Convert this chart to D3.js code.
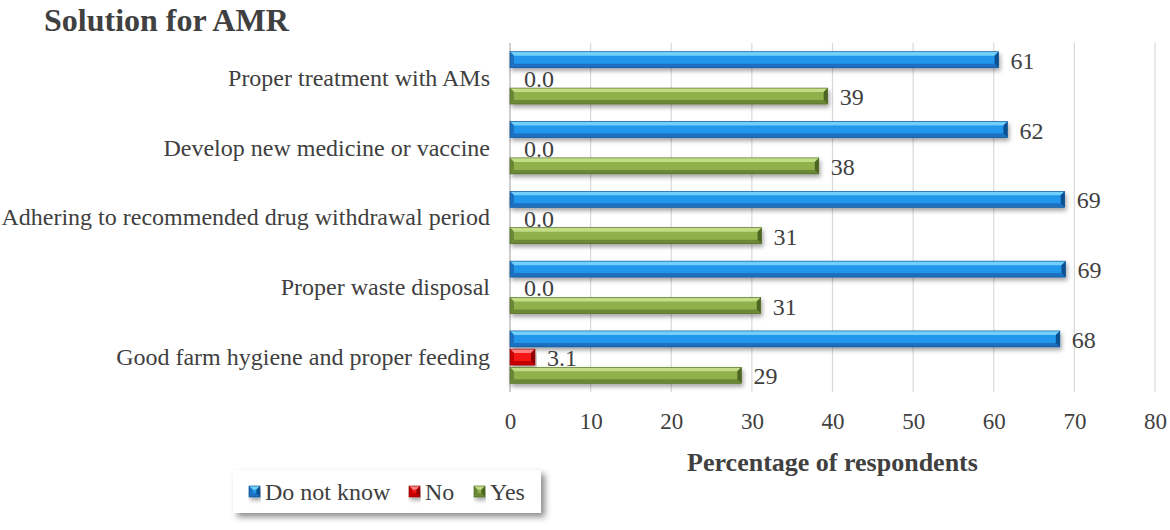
<!DOCTYPE html>
<html lang="en">
<head>
<meta charset="utf-8" />
<title>Solution for AMR</title>
<script src="https://cdn.jsdelivr.net/npm/d3@7/dist/d3.min.js"></script>
<style>
    body { margin: 0; background: #fff; }
    text { font-family: "Liberation Serif", "DejaVu Serif", serif; fill: #404040; }
</style>
</head>
<body>
<svg id="canvas" width="1170" height="530" xmlns="http://www.w3.org/2000/svg"></svg>
<script>
    // data
    var categories = [
        "Proper treatment with AMs",
        "Develop new medicine or vaccine",
        "Adhering to recommended drug withdrawal period",
        "Proper waste disposal",
        "Good farm hygiene and proper feeding"
    ];
    var seriesNames = ["Do not know", "No", "Yes"];
    var doNotKnow = [60.6, 61.7, 68.8, 68.9, 68.2];
    var no = [0, 0, 0, 0, 3.1];
    var yes = [39.4, 38.3, 31.2, 31.1, 28.7];
    var xTicks = [0, 10, 20, 30, 40, 50, 60, 70, 80];

    var seriesValues = [doNotKnow, no, yes];
    var labelFormats = [d3.format(".0f"), d3.format(".1f"), d3.format(".0f")];
    // light, face, dark, darkest
    var palettes = [
        ["#6fd0fb", "#2196ea", "#1a6fbf", "#0f4f8f"],
        ["#ff8080", "#f51515", "#c40000", "#900000"],
        ["#c2dd85", "#8fb04b", "#6a8835", "#4d6524"]
    ];

    var svg = d3.select("#canvas");
    var plotLeft = 510, plotRight = 1155, plotTop = 43, plotBottom = 392;

    var x = d3.scaleLinear().domain([0, 80]).range([plotLeft, plotRight]);
    var y0 = d3.scaleBand().domain(categories).range([plotTop, plotBottom])
        .paddingInner(0.25).paddingOuter(0.125);
    var y1 = d3.scaleBand().domain(seriesNames).range([0, y0.bandwidth()])
        .paddingInner(0.12);

    var defs = svg.append("defs");
    var shadow = defs.append("filter").attr("id", "shadow")
        .attr("x", "-5%").attr("y", "-50%").attr("width", "110%").attr("height", "220%");
    shadow.append("feDropShadow").attr("dx", 1.5).attr("dy", 3)
        .attr("stdDeviation", 2).attr("flood-color", "#000").attr("flood-opacity", 0.35);

    var boxShadow = defs.append("filter").attr("id", "boxShadow")
        .attr("x", "-10%").attr("y", "-30%").attr("width", "120%").attr("height", "170%");
    boxShadow.append("feDropShadow").attr("dx", 4).attr("dy", 4)
        .attr("stdDeviation", 3).attr("flood-color", "#000").attr("flood-opacity", 0.45);

    // title
    svg.append("text")
        .attr("x", 44).attr("y", 31)
        .style("font-size", "32px").style("font-weight", "bold")
        .text("Solution for AMR");

    // gridlines
    svg.append("g").selectAll("line")
        .data(xTicks.slice(1))
        .enter().append("line")
        .attr("x1", function (d) { return x(d); })
        .attr("x2", function (d) { return x(d); })
        .attr("y1", plotTop).attr("y2", plotBottom)
        .attr("stroke", "#d9d9d9").attr("stroke-width", 1.2);

    svg.append("line")
        .attr("x1", x(0)).attr("x2", x(0))
        .attr("y1", plotTop).attr("y2", plotBottom)
        .attr("stroke", "#bfbfbf").attr("stroke-width", 1.5);

    // x axis tick labels
    var xAxis = d3.axisBottom(x).tickValues(xTicks).tickSize(0).tickPadding(0);
    var gx = svg.append("g").attr("transform", "translate(0," + (plotBottom + 37) + ")").call(xAxis);
    gx.select(".domain").remove();
    gx.selectAll("text")
        .attr("dy", 0)
        .style("font-family", "'Liberation Serif', serif")
        .style("font-size", "23px").style("fill", "#404040");

    svg.append("text")
        .attr("x", x(40)).attr("y", 471)
        .attr("text-anchor", "middle")
        .style("font-size", "26px").style("font-weight", "bold")
        .text("Percentage  of respondents");

    // category labels
    svg.append("g").selectAll("text")
        .data(categories)
        .enter().append("text")
        .attr("x", plotLeft - 20)
        .attr("y", function (d) { return y0(d) + y0.bandwidth() / 2; })
        .attr("dy", "0.33em")
        .attr("text-anchor", "end")
        .style("font-size", "24px")
        .text(function (d) { return d; });

    // bevelled bar, like the Excel effect
    function bevel(g, x0, yTop, w, h, pal) {
        var b = Math.min(4, h / 3, w / 2);
        var x1 = x0 + w, yB = yTop + h;
        var wrap = g.append("g").attr("filter", "url(#shadow)");
        wrap.append("rect").attr("x", x0).attr("y", yTop).attr("width", w).attr("height", h)
            .attr("fill", pal[1]);
        wrap.append("polygon").attr("fill", pal[0])
            .attr("points", [[x0, yTop], [x1, yTop], [x1 - b, yTop + b], [x0 + b, yTop + b]].join(" "));
        wrap.append("polygon").attr("fill", pal[2])
            .attr("points", [[x0, yB], [x1, yB], [x1 - b, yB - b], [x0 + b, yB - b]].join(" "));
        wrap.append("polygon").attr("fill", pal[2])
            .attr("points", [[x0, yTop], [x0 + b, yTop + b], [x0 + b, yB - b], [x0, yB]].join(" "));
        wrap.append("polygon").attr("fill", pal[3])
            .attr("points", [[x1, yTop], [x1 - b, yTop + b], [x1 - b, yB - b], [x1, yB]].join(" "));
        wrap.append("rect").attr("x", x0).attr("y", yTop).attr("width", w).attr("height", h)
            .attr("fill", "none").attr("stroke", pal[3]).attr("stroke-width", 0.6);
    }

    var bars = svg.append("g");
    var labels = svg.append("g");
    seriesNames.forEach(function (s, si) {
        seriesValues[si].forEach(function (v, ci) {
            var yy = y0(categories[ci]) + y1(s);
            var w = x(v) - x(0);
            if (w > 0) bevel(bars, x(0), yy, w, y1.bandwidth(), palettes[si]);
            labels.append("text")
                .attr("x", x(v) + (v === 0 ? 14 : 12))
                .attr("y", yy + y1.bandwidth() / 2)
                .attr("dy", "0.38em")
                .style("font-size", "24px")
                .text(labelFormats[si](v));
        });
    });

    // legend
    var legend = svg.append("g").attr("transform", "translate(233,470)");
    legend.append("rect").attr("width", 308).attr("height", 43)
        .attr("fill", "#fff").attr("filter", "url(#boxShadow)");
    var itemX = [16, 176, 241];
    seriesNames.forEach(function (s, i) {
        var g = legend.append("g").attr("transform", "translate(" + itemX[i] + ",0)");
        bevel(g, 0, 16, 11, 11, palettes[i]);
        g.append("text").attr("x", 16).attr("y", 22).attr("dy", "0.35em")
            .style("font-size", "24px").text(s);
    });
</script>
</body>
</html>
